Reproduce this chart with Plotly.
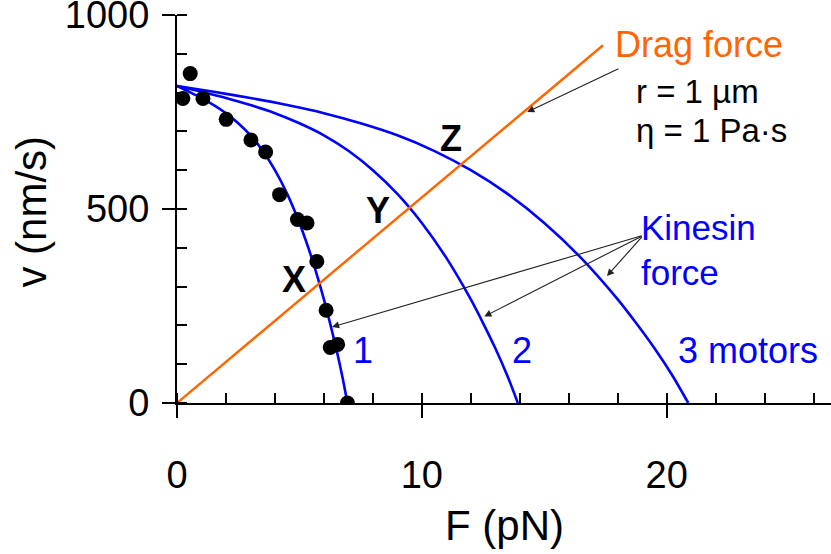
import plotly.graph_objects as go

# ---- data ----
dots_F = [0.24, 0.54, 1.06, 2.01, 3.02, 3.62, 4.19, 4.92, 5.31, 5.71, 6.09, 6.26, 6.56, 6.96]
dots_v = [785, 849, 785, 731, 678, 647, 537, 473, 464, 365, 239, 143, 151, 0]

curve_v = [817, 802, 786, 768, 747, 721, 690, 650, 600, 539, 464, 374, 267, 206, 141, 69, 0]
curve1_F = [0, 0.5, 1, 1.5, 2, 2.5, 3, 3.5, 4, 4.5, 5, 5.5, 6, 6.25, 6.5, 6.75, 6.96]
curve2_F = [0, 1, 2, 3, 4, 5, 6, 7, 8, 9, 10, 11, 12, 12.5, 13, 13.5, 13.92]
curve3_F = [0, 1.5, 3, 4.5, 6, 7.5, 9, 10.5, 12, 13.5, 15, 16.5, 18, 18.75, 19.5, 20.25, 20.88]

drag_F = [0, 17.4]
drag_v = [0, 922]

x_major = [0, 10, 20]
y_major = [0, 500, 1000]

BLUE = "#0000FF"
ORANGE = "#FF6600"
FONT = "Liberation Sans, Arial, sans-serif"

fig = go.Figure()
for cf in (curve1_F, curve2_F, curve3_F):
    fig.add_trace(go.Scatter(x=cf, y=curve_v, mode="lines",
                             line=dict(color=BLUE, width=2.6, shape="spline", smoothing=0.8),
                             hoverinfo="skip", showlegend=False))
fig.add_trace(go.Scatter(x=drag_F, y=drag_v, mode="lines",
                         line=dict(color=ORANGE, width=2.4), showlegend=False))
fig.add_trace(go.Scatter(x=dots_F, y=dots_v, mode="markers",
                         marker=dict(color="black", size=15), showlegend=False))
# dummy trace for overlay axes (inner halves of the major ticks)
fig.add_trace(go.Scatter(x=[None], y=[None], xaxis="x2", yaxis="y2", showlegend=False))

XR = [0, 26.71]
YR = [0, 1000]

fig.update_layout(
    template="none",
    width=831, height=554,
    margin=dict(l=177, r=0, t=15, b=151, autoexpand=False),
    paper_bgcolor="white", plot_bgcolor="white",
    font=dict(family=FONT, color="black"),
    xaxis=dict(range=XR, showgrid=False, zeroline=False, showline=True, automargin=False,
               linecolor="black", linewidth=2.2,
               tickvals=x_major, ticks="outside", ticklen=13, tickwidth=2, tickcolor="black",
               tickfont=dict(size=38, family=FONT), ticklabelstandoff=24,
               ticklabeloverflow="allow",
               minor=dict(ticks="inside", dtick=2, ticklen=10, tickwidth=1.8, tickcolor="black", showgrid=False)),
    yaxis=dict(range=YR, showgrid=False, zeroline=False, showline=True, automargin=False,
               linecolor="black", linewidth=2.2,
               tickvals=y_major, ticks="outside", ticklen=13, tickwidth=2, tickcolor="black",
               tickfont=dict(size=38, family=FONT), ticklabelstandoff=5,
               ticklabeloverflow="allow",
               minor=dict(ticks="inside", dtick=100, ticklen=10, tickwidth=1.8, tickcolor="black", showgrid=False)),
    xaxis2=dict(range=XR, overlaying="x", anchor="y", side="bottom", showgrid=False, zeroline=False,
                showline=False, tickvals=x_major, ticks="inside", ticklen=10, tickwidth=2,
                tickcolor="black", showticklabels=False, automargin=False),
    yaxis2=dict(range=YR, overlaying="y", anchor="x", side="left", showgrid=False, zeroline=False,
                showline=False, tickvals=y_major, ticks="inside", ticklen=10, tickwidth=2,
                tickcolor="black", showticklabels=False, automargin=False),
)

ann = []
# axis titles
ann.append(dict(text="F (pN)", xref="paper", yref="paper", x=0.5, y=-0.315,
                showarrow=False, font=dict(size=42, family=FONT), xanchor="center", yanchor="middle"))
ann.append(dict(text="v (nm/s)", xref="paper", yref="paper", x=-0.2228, y=0.494, textangle=-90,
                showarrow=False, font=dict(size=42, family=FONT), xanchor="center", yanchor="middle"))


def txt(t, x, y, size, color="black", xanchor="center", bold=False):
    ann.append(dict(text=("<b>%s</b>" % t) if bold else t, x=x, y=y, xref="x", yref="y",
                    showarrow=False, font=dict(size=size, color=color, family=FONT),
                    xanchor=xanchor, yanchor="middle"))


txt("Drag force", 17.8, 923, 36, ORANGE, "left")
txt("r = 1 µm", 18.65, 802, 33, "black", "left")
txt("η = 1 Pa·s", 18.65, 703, 33, "black", "left")
txt("Kinesin", 18.85, 452, 35, BLUE, "left")
txt("force", 18.85, 336, 35, BLUE, "left")
txt("3 motors", 23.3, 135, 36, BLUE)
txt("1", 7.60, 135, 36, BLUE)
txt("2", 14.08, 135, 36, BLUE)
txt("X", 4.79, 319, 36, "black", bold=True)
txt("Y", 8.20, 497, 36, "black", bold=True)
txt("Z", 11.2, 683, 36, "black", bold=True)


def arrow(x, y, ax, ay):
    ann.append(dict(x=x, y=y, ax=ax, ay=ay, xref="x", yref="y", axref="x", ayref="y",
                    text="", showarrow=True, arrowhead=2, arrowsize=1.3, arrowwidth=1.1,
                    arrowcolor="#222222"))


arrow(14.3, 750, 18.09, 863)
arrow(6.33, 196, 19.04, 432)
arrow(12.55, 223, 19.04, 432)
arrow(17.56, 327, 19.04, 432)

fig.update_layout(annotations=ann)
fig.write_html("out.html")
